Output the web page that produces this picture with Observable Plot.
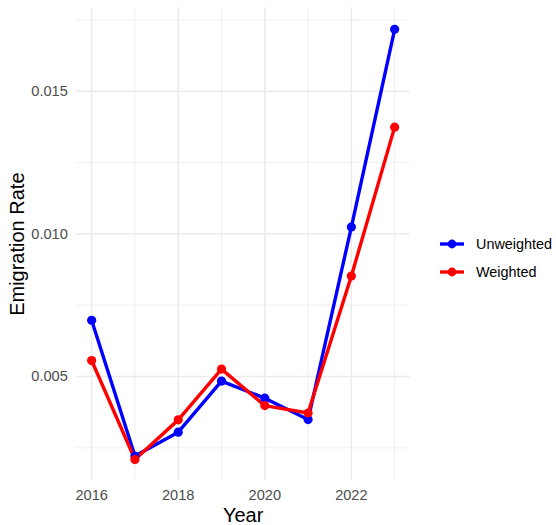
<!DOCTYPE html>
<html>
<head>
<meta charset="utf-8">
<script src="https://cdn.jsdelivr.net/npm/d3@7"></script>
<script src="https://cdn.jsdelivr.net/npm/@observablehq/plot@0.6"></script>
<style>
  html, body { margin: 0; padding: 0; background: #fff; }
  #wrap { position: relative; width: 556px; height: 525px; font-family: "Liberation Sans", Arial, sans-serif; }
  #legend { position: absolute; left: 440px; top: 230.5px; }
  .item { display: flex; align-items: center; height: 27.7px; }
  .item span { margin-left: 12px; font-size: 14.4px; color: #000; }
</style>
</head>
<body>
<div id="wrap"></div>
<script>
const years = [2016, 2017, 2018, 2019, 2020, 2021, 2022, 2023];
const unweighted = [0.00697, 0.00221, 0.00305, 0.00484, 0.00424, 0.00349, 0.01024, 0.01717];
const weighted   = [0.00556, 0.00209, 0.00348, 0.00526, 0.00398, 0.00372, 0.00852, 0.01374];
const seriesNames = ["Unweighted", "Weighted"];
const seriesColors = ["#0000FF", "#FF0000"];
const xMajorTicks = [2016, 2018, 2020, 2022];
const xMinorTicks = [2017, 2019, 2021, 2023];
const yMajorTicks = [0.005, 0.010, 0.015];
const yMinorTicks = [0.0025, 0.0075, 0.0125, 0.0175];

const series = [unweighted, weighted];
const data = seriesNames.flatMap((name, s) =>
  years.map((yr, i) => ({year: yr, rate: series[s][i], series: name}))
);

const grid = "#EBEBEB";
const plot = Plot.plot({
  width: 556,
  height: 525,
  marginLeft: 76,
  marginRight: 146.7,
  marginTop: 7.3,
  marginBottom: 45,
  style: {fontFamily: '"Liberation Sans", Arial, sans-serif', fontSize: "14.4px", background: "white", overflow: "visible"},
  x: {domain: [2015.65, 2023.35], label: null},
  y: {domain: [0.001355, 0.017923], label: null},
  color: {domain: seriesNames, range: seriesColors},
  marks: [
    Plot.gridX(xMinorTicks, {stroke: grid, strokeOpacity: 1, strokeWidth: 0.8}),
    Plot.gridY(yMinorTicks, {stroke: grid, strokeOpacity: 1, strokeWidth: 0.8}),
    Plot.gridX(xMajorTicks, {stroke: grid, strokeOpacity: 1, strokeWidth: 1.5}),
    Plot.gridY(yMajorTicks, {stroke: grid, strokeOpacity: 1, strokeWidth: 1.5}),
    Plot.axisX(xMajorTicks, {tickSize: 0, tickPadding: 9, tickFormat: d => String(d), fill: "#4D4D4D", fontSize: 14.6, label: null}),
    Plot.axisY(yMajorTicks, {tickSize: 0, tickPadding: 8.7, tickFormat: d3.format(".3f"), fill: "#4D4D4D", fontSize: 14.6, label: null}),
    Plot.text(["Year"], {frameAnchor: "bottom", lineAnchor: "bottom", textAnchor: "middle", dy: 41.5, fontSize: 20, fill: "#000"}),
    Plot.text(["Emigration Rate"], {frameAnchor: "left", lineAnchor: "bottom", textAnchor: "middle", rotate: -90, dx: -53, fontSize: 20, fill: "#000"}),
    Plot.line(data, {x: "year", y: "rate", z: "series", stroke: "series", strokeWidth: 3.4}),
    Plot.dot(data, {x: "year", y: "rate", fill: "series", r: 4.6})
  ]
});

const wrap = document.getElementById("wrap");
wrap.appendChild(plot);

const legend = document.createElement("div");
legend.id = "legend";
seriesNames.forEach((name, i) => {
  const item = document.createElement("div");
  item.className = "item";
  item.innerHTML = `<svg width="24" height="12" viewBox="0 0 24 12"><line x1="0" y1="6" x2="24" y2="6" stroke="${seriesColors[i]}" stroke-width="3.4"/><circle cx="12" cy="6" r="4.4" fill="${seriesColors[i]}"/></svg><span>${name}</span>`;
  legend.appendChild(item);
});
wrap.appendChild(legend);
</script>
</body>
</html>
